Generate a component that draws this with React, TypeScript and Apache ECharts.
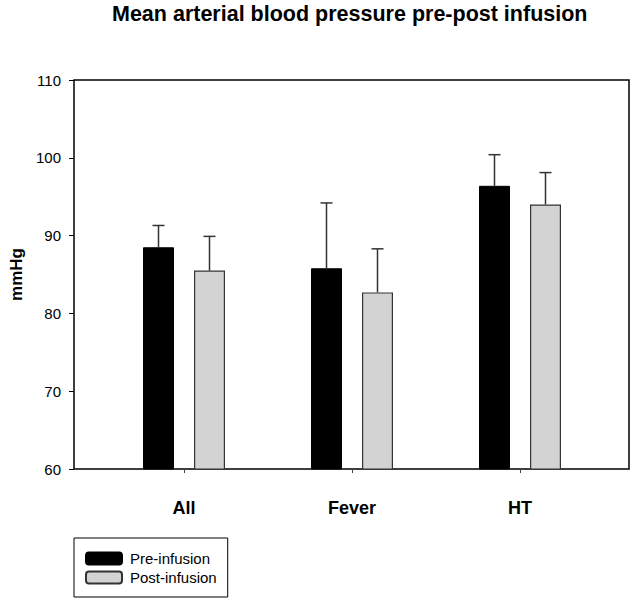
import React, { useEffect, useRef } from "react";
import * as echarts from "echarts";

const categories = ["All", "Fever", "HT"];
const preMean = [88.5, 85.8, 96.4];
const preUpper = [91.3, 94.2, 100.4];
const postMean = [85.5, 82.7, 94.0];
const postUpper = [89.9, 88.3, 98.1];
const seriesNames = ["Pre-infusion", "Post-infusion"];
const titleText = "Mean arterial blood pressure pre-post infusion";
const yName = "mmHg";

const FONT = "'Liberation Sans', Arial, Helvetica, sans-serif";
const BAR_W = 31;
const BAR_GAP = 20;

export default function App() {
  const ref = useRef<HTMLDivElement>(null);
  useEffect(() => {
    document.body.style.margin = "0";
    if (!ref.current) return;
    const chart = echarts.init(ref.current, null, { renderer: "svg" });

    const errRender = (offsetSign: number) => (params: any, api: any) => {
      const i = api.value(0);
      const base = api.coord([i, api.value(1)]);
      const top = api.coord([i, api.value(2)]);
      const x = base[0] + offsetSign * (BAR_W + BAR_GAP) / 2;
      const style = { stroke: "#333", lineWidth: 1.5 };
      return {
        type: "group",
        children: [
          { type: "line", shape: { x1: x, y1: base[1], x2: x, y2: top[1] }, style },
          { type: "line", shape: { x1: x - 6, y1: top[1], x2: x + 6, y2: top[1] }, style },
        ],
      };
    };

    const option: any = {
      animation: false,
      backgroundColor: "#fff",
      textStyle: { fontFamily: FONT },
      title: {
        text: titleText,
        left: 107,
        top: 0,
        padding: [3, 5, 5, 5],
        textStyle: { fontSize: 21.5, fontWeight: "bold", color: "#000", fontFamily: FONT },
      },
      grid: [
        { left: 100, width: 504, top: 80, height: 389, show: false, outerBoundsMode: "none", containLabel: false },
        { left: 74, right: 6, top: 80, bottom: 134, show: true, borderColor: "#000", borderWidth: 1.5, backgroundColor: "transparent", outerBoundsMode: "none" },
      ],
      xAxis: [
        {
          type: "category",
          gridIndex: 0,
          data: categories,
          axisLine: { show: false },
          axisTick: { show: true, alignWithLabel: true, length: 4, lineStyle: { color: "#444" } },
          axisLabel: { margin: 30, fontSize: 18, fontWeight: "bold", color: "#000", fontFamily: FONT },
          splitLine: { show: false },
        },
        { type: "value", gridIndex: 1, show: false, min: 0, max: 1 },
      ],
      yAxis: [
        {
          type: "value",
          gridIndex: 0,
          min: 60,
          max: 110,
          interval: 10,
          offset: 26,
          name: yName,
          nameLocation: "middle",
          nameGap: 48,
          nameTextStyle: { fontSize: 17, fontWeight: "bold", color: "#000", fontFamily: FONT },
          axisLine: { show: false },
          axisTick: { show: true, length: 5, lineStyle: { color: "#000" } },
          axisLabel: { fontSize: 15, color: "#000", margin: 13, fontFamily: FONT },
          splitLine: { show: false },
        },
        { type: "value", gridIndex: 1, show: false, min: 0, max: 1 },
      ],
      legend: {
        orient: "vertical",
        left: 74,
        top: 538,
        data: seriesNames,
        borderColor: "#000",
        borderWidth: 1,
        borderRadius: 0,
        padding: [13, 11, 12, 11],
        itemWidth: 36,
        itemHeight: 12,
        itemGap: 4,
        textStyle: { fontSize: 15, color: "#000", fontFamily: FONT, padding: [0, 0, 0, 3] },
      },
      series: [
        {
          name: seriesNames[0],
          type: "bar",
          xAxisIndex: 0,
          yAxisIndex: 0,
          data: preMean,
          barWidth: BAR_W,
          barGap: (BAR_GAP / BAR_W) * 100 + "%",
          itemStyle: { color: "#000", borderColor: "#000", borderWidth: 1 },
        },
        {
          name: seriesNames[1],
          type: "bar",
          xAxisIndex: 0,
          yAxisIndex: 0,
          data: postMean,
          barWidth: BAR_W,
          itemStyle: { color: "#d3d3d3", borderColor: "#333", borderWidth: 1.2 },
        },
        {
          type: "custom",
          xAxisIndex: 0,
          yAxisIndex: 0,
          renderItem: errRender(-1),
          data: categories.map((_, i) => [i, preMean[i], preUpper[i]]),
          z: 5,
        },
        {
          type: "custom",
          xAxisIndex: 0,
          yAxisIndex: 0,
          renderItem: errRender(1),
          data: categories.map((_, i) => [i, postMean[i], postUpper[i]]),
          z: 5,
        },
      ],
    };
    chart.setOption(option);
    return () => chart.dispose();
  }, []);
  return <div ref={ref} style={{ width: 635, height: 603 }} />;
}
